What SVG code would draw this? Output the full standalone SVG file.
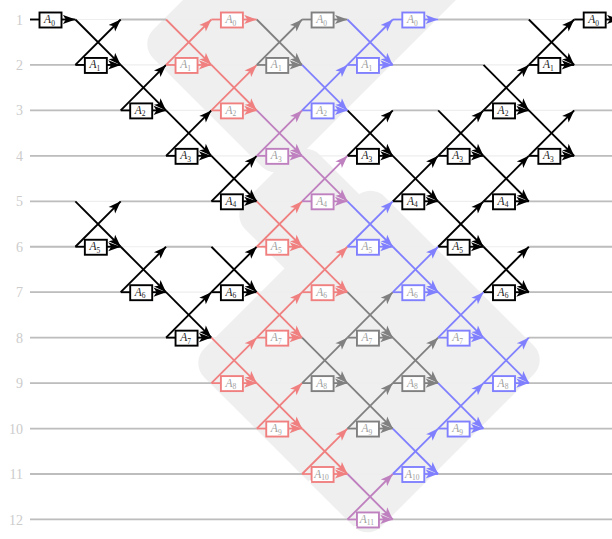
<svg xmlns="http://www.w3.org/2000/svg" xmlns:xlink="http://www.w3.org/1999/xlink" width="612" height="539" viewBox="0 0 612 539">
<style>
.bg{fill:#efefef}
.faint{stroke:#eeeeee;stroke-width:1.2}
.wire{stroke:#bdbdbd;stroke-width:1.8}
.lbl{font-family:"Liberation Serif","DejaVu Serif",serif;font-size:14px;fill:#cccccc;text-anchor:end}
.k{stroke:#000000;stroke-width:1.9;fill:none;marker-end:url(#mk)}
.r{stroke:#f08080;stroke-width:1.8;fill:none;marker-end:url(#mr)}
.g{stroke:#808080;stroke-width:1.8;fill:none;marker-end:url(#mg)}
.b{stroke:#8080ff;stroke-width:1.8;fill:none;marker-end:url(#mb)}
.p{stroke:#bf80bf;stroke-width:1.8;fill:none;marker-end:url(#mp)}
.node{marker-end:none}
.node rect{fill:#ffffff;stroke-width:1.9}
.node text{font-family:"Liberation Serif","DejaVu Serif",serif;font-style:italic;font-size:11.5px;text-anchor:middle;fill:#a0a0a0;stroke:none}
.node.k text{fill:#222222}
.sub{font-size:7.5px;font-style:normal}
.dot{stroke:none}
</style>
<defs>
<marker id="mk" viewBox="-13 -5 13 10" refX="0" refY="0" markerWidth="13" markerHeight="10" markerUnits="userSpaceOnUse" orient="auto"><path d="M0,0 L-12.5,-4.6 L-9.5,0 L-12.5,4.6 Z" fill="#000000" stroke="none"/></marker>
<marker id="mr" viewBox="-13 -5 13 10" refX="0" refY="0" markerWidth="13" markerHeight="10" markerUnits="userSpaceOnUse" orient="auto"><path d="M0,0 L-12.5,-4.6 L-9.5,0 L-12.5,4.6 Z" fill="#f08080" stroke="none"/></marker>
<marker id="mg" viewBox="-13 -5 13 10" refX="0" refY="0" markerWidth="13" markerHeight="10" markerUnits="userSpaceOnUse" orient="auto"><path d="M0,0 L-12.5,-4.6 L-9.5,0 L-12.5,4.6 Z" fill="#808080" stroke="none"/></marker>
<marker id="mb" viewBox="-13 -5 13 10" refX="0" refY="0" markerWidth="13" markerHeight="10" markerUnits="userSpaceOnUse" orient="auto"><path d="M0,0 L-12.5,-4.6 L-9.5,0 L-12.5,4.6 Z" fill="#8080ff" stroke="none"/></marker>
<marker id="mp" viewBox="-13 -5 13 10" refX="0" refY="0" markerWidth="13" markerHeight="10" markerUnits="userSpaceOnUse" orient="auto"><path d="M0,0 L-12.5,-4.6 L-9.5,0 L-12.5,4.6 Z" fill="#bf80bf" stroke="none"/></marker>
<g id="xg">
<line x1="0" y1="-45.45" x2="45.35" y2="0"/>
<line x1="0" y1="0" x2="45.35" y2="-45.45"/>
<line x1="0" y1="0" x2="9.5" y2="0" marker-end="none"/>
<line x1="31.5" y1="0" x2="45.35" y2="0"/>
</g>
<g id="hg">
<line x1="0" y1="0" x2="9.5" y2="0" marker-end="none"/>
<line x1="31.5" y1="0" x2="45.35" y2="0"/>
</g>
</defs>

<g id="background">
<rect class="bg" x="129.4" y="-424.26" width="193.04" height="357.09" rx="20" transform="rotate(45)"/>
<rect class="bg" x="315.37" y="-116.67" width="179.61" height="105.36" rx="20" transform="rotate(45)"/>
<rect class="bg" x="391.03" y="-132.94" width="251.02" height="255.27" rx="20" transform="rotate(45)"/>
</g>

<g id="rows">
<g class="faint">
<line x1="30" y1="19.5" x2="612" y2="19.5"/>
<line x1="30" y1="64.95" x2="612" y2="64.95"/>
<line x1="30" y1="110.4" x2="612" y2="110.4"/>
<line x1="30" y1="155.85" x2="612" y2="155.85"/>
<line x1="30" y1="201.3" x2="612" y2="201.3"/>
<line x1="30" y1="246.75" x2="612" y2="246.75"/>
<line x1="30" y1="292.2" x2="612" y2="292.2"/>
<line x1="30" y1="337.65" x2="612" y2="337.65"/>
<line x1="30" y1="383.1" x2="612" y2="383.1"/>
<line x1="30" y1="428.55" x2="612" y2="428.55"/>
<line x1="30" y1="474" x2="612" y2="474"/>
<line x1="30" y1="519.45" x2="612" y2="519.45"/>
</g>
<g class="wire">
<line x1="120.7" y1="19.5" x2="166.05" y2="19.5"/>
<line x1="438.15" y1="19.5" x2="528.85" y2="19.5"/>
<line x1="30" y1="64.95" x2="75.35" y2="64.95"/>
<line x1="392.8" y1="64.95" x2="483.5" y2="64.95"/>
<line x1="574.2" y1="64.95" x2="612" y2="64.95"/>
<line x1="30" y1="110.4" x2="120.7" y2="110.4"/>
<line x1="392.8" y1="110.4" x2="438.15" y2="110.4"/>
<line x1="574.2" y1="110.4" x2="612" y2="110.4"/>
<line x1="30" y1="155.85" x2="166.05" y2="155.85"/>
<line x1="574.2" y1="155.85" x2="612" y2="155.85"/>
<line x1="30" y1="201.3" x2="75.35" y2="201.3"/>
<line x1="120.7" y1="201.3" x2="211.4" y2="201.3"/>
<line x1="528.85" y1="201.3" x2="612" y2="201.3"/>
<line x1="30" y1="246.75" x2="75.35" y2="246.75"/>
<line x1="166.05" y1="246.75" x2="211.4" y2="246.75"/>
<line x1="528.85" y1="246.75" x2="612" y2="246.75"/>
<line x1="30" y1="292.2" x2="120.7" y2="292.2"/>
<line x1="528.85" y1="292.2" x2="612" y2="292.2"/>
<line x1="30" y1="337.65" x2="166.05" y2="337.65"/>
<line x1="528.85" y1="337.65" x2="612" y2="337.65"/>
<line x1="30" y1="383.1" x2="211.4" y2="383.1"/>
<line x1="528.85" y1="383.1" x2="612" y2="383.1"/>
<line x1="30" y1="428.55" x2="256.75" y2="428.55"/>
<line x1="483.5" y1="428.55" x2="612" y2="428.55"/>
<line x1="30" y1="474" x2="302.1" y2="474"/>
<line x1="438.15" y1="474" x2="612" y2="474"/>
<line x1="30" y1="519.45" x2="347.45" y2="519.45"/>
<line x1="392.8" y1="519.45" x2="612" y2="519.45"/>
</g>
<g class="lbl">
<text x="23" y="24.5">1</text>
<text x="23" y="70">2</text>
<text x="23" y="115.4">3</text>
<text x="23" y="160.9">4</text>
<text x="23" y="206.3">5</text>
<text x="23" y="251.8">6</text>
<text x="23" y="297.2">7</text>
<text x="23" y="342.7">8</text>
<text x="23" y="388.1">9</text>
<text x="23" y="433.6">10</text>
<text x="23" y="479">11</text>
<text x="23" y="524.5">12</text>
</g>
</g>

<g id="nodes">
<g id="k-c0-A0" class="node k" transform="translate(30,19.5)"><rect x="9.5" y="-7" width="22" height="15"/><text x="19.5" y="3.5">A<tspan class="sub" dy="2.5">0</tspan></text></g>
<g id="k-c1-A1" class="node k" transform="translate(75.35,64.95)"><rect x="9.5" y="-7" width="22" height="15"/><text x="19.5" y="3.5">A<tspan class="sub" dy="2.5">1</tspan></text></g>
<g id="k-c2-A2" class="node k" transform="translate(120.7,110.4)"><rect x="9.5" y="-7" width="22" height="15"/><text x="19.5" y="3.5">A<tspan class="sub" dy="2.5">2</tspan></text></g>
<g id="k-c3-A3" class="node k" transform="translate(166.05,155.85)"><rect x="9.5" y="-7" width="22" height="15"/><text x="19.5" y="3.5">A<tspan class="sub" dy="2.5">3</tspan></text></g>
<g id="k-c4-A4" class="node k" transform="translate(211.4,201.3)"><rect x="9.5" y="-7" width="22" height="15"/><text x="19.5" y="3.5">A<tspan class="sub" dy="2.5">4</tspan></text></g>
<g id="k-c1-A5" class="node k" transform="translate(75.35,246.75)"><rect x="9.5" y="-7" width="22" height="15"/><text x="19.5" y="3.5">A<tspan class="sub" dy="2.5">5</tspan></text></g>
<g id="k-c2-A6" class="node k" transform="translate(120.7,292.2)"><rect x="9.5" y="-7" width="22" height="15"/><text x="19.5" y="3.5">A<tspan class="sub" dy="2.5">6</tspan></text></g>
<g id="k-c3-A7" class="node k" transform="translate(166.05,337.65)"><rect x="9.5" y="-7" width="22" height="15"/><text x="19.5" y="3.5">A<tspan class="sub" dy="2.5">7</tspan></text></g>
<g id="k-c4-A6" class="node k" transform="translate(211.4,292.2)"><rect x="9.5" y="-7" width="22" height="15"/><text x="19.5" y="3.5">A<tspan class="sub" dy="2.5">6</tspan></text></g>
<g id="k-c7-A3" class="node k" transform="translate(347.45,155.85)"><rect x="9.5" y="-7" width="22" height="15"/><text x="19.5" y="3.5">A<tspan class="sub" dy="2.5">3</tspan></text></g>
<g id="k-c8-A4" class="node k" transform="translate(392.8,201.3)"><rect x="9.5" y="-7" width="22" height="15"/><text x="19.5" y="3.5">A<tspan class="sub" dy="2.5">4</tspan></text></g>
<g id="k-c9-A3" class="node k" transform="translate(438.15,155.85)"><rect x="9.5" y="-7" width="22" height="15"/><text x="19.5" y="3.5">A<tspan class="sub" dy="2.5">3</tspan></text></g>
<g id="k-c9-A5" class="node k" transform="translate(438.15,246.75)"><rect x="9.5" y="-7" width="22" height="15"/><text x="19.5" y="3.5">A<tspan class="sub" dy="2.5">5</tspan></text></g>
<g id="k-c10-A2" class="node k" transform="translate(483.5,110.4)"><rect x="9.5" y="-7" width="22" height="15"/><text x="19.5" y="3.5">A<tspan class="sub" dy="2.5">2</tspan></text></g>
<g id="k-c10-A4" class="node k" transform="translate(483.5,201.3)"><rect x="9.5" y="-7" width="22" height="15"/><text x="19.5" y="3.5">A<tspan class="sub" dy="2.5">4</tspan></text></g>
<g id="k-c10-A6" class="node k" transform="translate(483.5,292.2)"><rect x="9.5" y="-7" width="22" height="15"/><text x="19.5" y="3.5">A<tspan class="sub" dy="2.5">6</tspan></text></g>
<g id="k-c11-A1" class="node k" transform="translate(528.85,64.95)"><rect x="9.5" y="-7" width="22" height="15"/><text x="19.5" y="3.5">A<tspan class="sub" dy="2.5">1</tspan></text></g>
<g id="k-c11-A3" class="node k" transform="translate(528.85,155.85)"><rect x="9.5" y="-7" width="22" height="15"/><text x="19.5" y="3.5">A<tspan class="sub" dy="2.5">3</tspan></text></g>
<g id="k-c12-A0" class="node k" transform="translate(574.2,19.5)"><rect x="9.5" y="-7" width="22" height="15"/><text x="19.5" y="3.5">A<tspan class="sub" dy="2.5">0</tspan></text></g>

<g id="r-c3-A1" class="node r" transform="translate(166.05,64.95)"><rect x="9.5" y="-7" width="22" height="15"/><text x="19.5" y="3.5">A<tspan class="sub" dy="2.5">1</tspan></text></g>
<g id="r-c4-A0" class="node r" transform="translate(211.4,19.5)"><rect x="9.5" y="-7" width="22" height="15"/><text x="19.5" y="3.5">A<tspan class="sub" dy="2.5">0</tspan></text></g>
<g id="r-c4-A2" class="node r" transform="translate(211.4,110.4)"><rect x="9.5" y="-7" width="22" height="15"/><text x="19.5" y="3.5">A<tspan class="sub" dy="2.5">2</tspan></text></g>
<g id="r-c4-A8" class="node r" transform="translate(211.4,383.1)"><rect x="9.5" y="-7" width="22" height="15"/><text x="19.5" y="3.5">A<tspan class="sub" dy="2.5">8</tspan></text></g>
<g id="r-c5-A5" class="node r" transform="translate(256.75,246.75)"><rect x="9.5" y="-7" width="22" height="15"/><text x="19.5" y="3.5">A<tspan class="sub" dy="2.5">5</tspan></text></g>
<g id="r-c5-A7" class="node r" transform="translate(256.75,337.65)"><rect x="9.5" y="-7" width="22" height="15"/><text x="19.5" y="3.5">A<tspan class="sub" dy="2.5">7</tspan></text></g>
<g id="r-c5-A9" class="node r" transform="translate(256.75,428.55)"><rect x="9.5" y="-7" width="22" height="15"/><text x="19.5" y="3.5">A<tspan class="sub" dy="2.5">9</tspan></text></g>
<g id="r-c6-A6" class="node r" transform="translate(302.1,292.2)"><rect x="9.5" y="-7" width="22" height="15"/><text x="19.5" y="3.5">A<tspan class="sub" dy="2.5">6</tspan></text></g>
<g id="r-c6-A10" class="node r" transform="translate(302.1,474)"><rect x="9.5" y="-7" width="22" height="15"/><text x="19.5" y="3.5">A<tspan class="sub" dy="2.5">10</tspan></text><rect class="dot" x="6.5" y="6.5" width="2.5" height="2.5" fill="#ff0000"/></g>

<g id="g-c5-A1" class="node g" transform="translate(256.75,64.95)"><rect x="9.5" y="-7" width="22" height="15"/><text x="19.5" y="3.5">A<tspan class="sub" dy="2.5">1</tspan></text></g>
<g id="g-c6-A0" class="node g" transform="translate(302.1,19.5)"><rect x="9.5" y="-7" width="22" height="15"/><text x="19.5" y="3.5">A<tspan class="sub" dy="2.5">0</tspan></text></g>
<g id="g-c6-A8" class="node g" transform="translate(302.1,383.1)"><rect x="9.5" y="-7" width="22" height="15"/><text x="19.5" y="3.5">A<tspan class="sub" dy="2.5">8</tspan></text></g>
<g id="g-c7-A7" class="node g" transform="translate(347.45,337.65)"><rect x="9.5" y="-7" width="22" height="15"/><text x="19.5" y="3.5">A<tspan class="sub" dy="2.5">7</tspan></text></g>
<g id="g-c7-A9" class="node g" transform="translate(347.45,428.55)"><rect x="9.5" y="-7" width="22" height="15"/><text x="19.5" y="3.5">A<tspan class="sub" dy="2.5">9</tspan></text></g>
<g id="g-c8-A8" class="node g" transform="translate(392.8,383.1)"><rect x="9.5" y="-7" width="22" height="15"/><text x="19.5" y="3.5">A<tspan class="sub" dy="2.5">8</tspan></text></g>

<g id="b-c6-A2" class="node b" transform="translate(302.1,110.4)"><rect x="9.5" y="-7" width="22" height="15"/><text x="19.5" y="3.5">A<tspan class="sub" dy="2.5">2</tspan></text></g>
<g id="b-c7-A1" class="node b" transform="translate(347.45,64.95)"><rect x="9.5" y="-7" width="22" height="15"/><text x="19.5" y="3.5">A<tspan class="sub" dy="2.5">1</tspan></text></g>
<g id="b-c7-A5" class="node b" transform="translate(347.45,246.75)"><rect x="9.5" y="-7" width="22" height="15"/><text x="19.5" y="3.5">A<tspan class="sub" dy="2.5">5</tspan></text></g>
<g id="b-c8-A0" class="node b" transform="translate(392.8,19.5)"><rect x="9.5" y="-7" width="22" height="15"/><text x="19.5" y="3.5">A<tspan class="sub" dy="2.5">0</tspan></text></g>
<g id="b-c8-A6" class="node b" transform="translate(392.8,292.2)"><rect x="9.5" y="-7" width="22" height="15"/><text x="19.5" y="3.5">A<tspan class="sub" dy="2.5">6</tspan></text></g>
<g id="b-c8-A10" class="node b" transform="translate(392.8,474)"><rect x="9.5" y="-7" width="22" height="15"/><text x="19.5" y="3.5">A<tspan class="sub" dy="2.5">10</tspan></text></g>
<g id="b-c9-A7" class="node b" transform="translate(438.15,337.65)"><rect x="9.5" y="-7" width="22" height="15"/><text x="19.5" y="3.5">A<tspan class="sub" dy="2.5">7</tspan></text></g>
<g id="b-c9-A9" class="node b" transform="translate(438.15,428.55)"><rect x="9.5" y="-7" width="22" height="15"/><text x="19.5" y="3.5">A<tspan class="sub" dy="2.5">9</tspan></text></g>
<g id="b-c10-A8" class="node b" transform="translate(483.5,383.1)"><rect x="9.5" y="-7" width="22" height="15"/><text x="19.5" y="3.5">A<tspan class="sub" dy="2.5">8</tspan></text></g>

<g id="p-c5-A3" class="node p" transform="translate(256.75,155.85)"><rect x="9.5" y="-7" width="22" height="15"/><text x="19.5" y="3.5">A<tspan class="sub" dy="2.5">3</tspan></text></g>
<g id="p-c6-A4" class="node p" transform="translate(302.1,201.3)"><rect x="9.5" y="-7" width="22" height="15"/><text x="19.5" y="3.5">A<tspan class="sub" dy="2.5">4</tspan></text></g>
<g id="p-c7-A11" class="node p" transform="translate(347.45,519.45)"><rect x="9.5" y="-7" width="22" height="15"/><text x="19.5" y="3.5">A<tspan class="sub" dy="2.5">11</tspan></text><rect class="dot" x="6.5" y="6.5" width="2.5" height="2.5" fill="#6a006a"/></g>
</g>

<g id="connectors">
<use xlink:href="#hg" class="k" transform="translate(30,19.5)"/>
<use xlink:href="#xg" class="k" transform="translate(75.35,64.95)"/>
<use xlink:href="#xg" class="k" transform="translate(120.7,110.4)"/>
<use xlink:href="#xg" class="k" transform="translate(166.05,155.85)"/>
<use xlink:href="#xg" class="k" transform="translate(211.4,201.3)"/>
<use xlink:href="#xg" class="k" transform="translate(75.35,246.75)"/>
<use xlink:href="#xg" class="k" transform="translate(120.7,292.2)"/>
<use xlink:href="#xg" class="k" transform="translate(166.05,337.65)"/>
<use xlink:href="#xg" class="k" transform="translate(211.4,292.2)"/>
<use xlink:href="#xg" class="k" transform="translate(347.45,155.85)"/>
<use xlink:href="#xg" class="k" transform="translate(392.8,201.3)"/>
<use xlink:href="#xg" class="k" transform="translate(438.15,155.85)"/>
<use xlink:href="#xg" class="k" transform="translate(438.15,246.75)"/>
<use xlink:href="#xg" class="k" transform="translate(483.5,110.4)"/>
<use xlink:href="#xg" class="k" transform="translate(483.5,201.3)"/>
<use xlink:href="#xg" class="k" transform="translate(483.5,292.2)"/>
<use xlink:href="#xg" class="k" transform="translate(528.85,64.95)"/>
<use xlink:href="#xg" class="k" transform="translate(528.85,155.85)"/>
<use xlink:href="#hg" class="k" transform="translate(574.2,19.5)"/>

<use xlink:href="#xg" class="r" transform="translate(166.05,64.95)"/>
<use xlink:href="#hg" class="r" transform="translate(211.4,19.5)"/>
<use xlink:href="#xg" class="r" transform="translate(211.4,110.4)"/>
<use xlink:href="#xg" class="r" transform="translate(211.4,383.1)"/>
<use xlink:href="#xg" class="r" transform="translate(256.75,246.75)"/>
<use xlink:href="#xg" class="r" transform="translate(256.75,337.65)"/>
<use xlink:href="#xg" class="r" transform="translate(256.75,428.55)"/>
<use xlink:href="#xg" class="r" transform="translate(302.1,292.2)"/>
<use xlink:href="#xg" class="r" transform="translate(302.1,474)"/>

<use xlink:href="#xg" class="g" transform="translate(256.75,64.95)"/>
<use xlink:href="#hg" class="g" transform="translate(302.1,19.5)"/>
<use xlink:href="#xg" class="g" transform="translate(302.1,383.1)"/>
<use xlink:href="#xg" class="g" transform="translate(347.45,337.65)"/>
<use xlink:href="#xg" class="g" transform="translate(347.45,428.55)"/>
<use xlink:href="#xg" class="g" transform="translate(392.8,383.1)"/>

<use xlink:href="#xg" class="b" transform="translate(302.1,110.4)"/>
<use xlink:href="#xg" class="b" transform="translate(347.45,64.95)"/>
<use xlink:href="#xg" class="b" transform="translate(347.45,246.75)"/>
<use xlink:href="#hg" class="b" transform="translate(392.8,19.5)"/>
<use xlink:href="#xg" class="b" transform="translate(392.8,292.2)"/>
<use xlink:href="#xg" class="b" transform="translate(392.8,474)"/>
<use xlink:href="#xg" class="b" transform="translate(438.15,337.65)"/>
<use xlink:href="#xg" class="b" transform="translate(438.15,428.55)"/>
<use xlink:href="#xg" class="b" transform="translate(483.5,383.1)"/>

<use xlink:href="#xg" class="p" transform="translate(256.75,155.85)"/>
<use xlink:href="#xg" class="p" transform="translate(302.1,201.3)"/>
<use xlink:href="#xg" class="p" transform="translate(347.45,519.45)"/>
</g>
</svg>
